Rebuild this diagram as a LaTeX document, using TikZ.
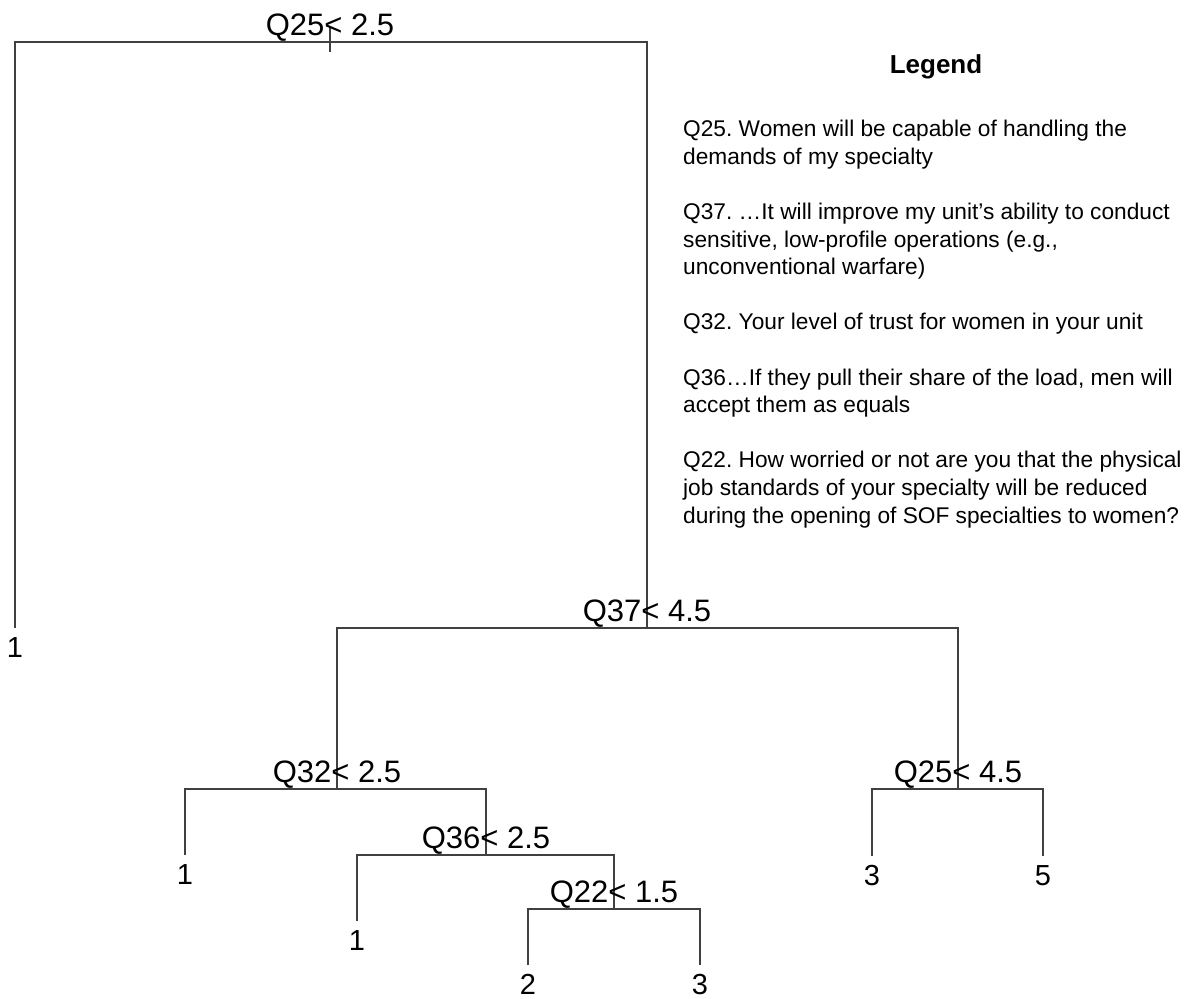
\documentclass[tikz,border=0pt]{standalone}
\usepackage{fontspec}
\setmainfont{Liberation Sans}
\frenchspacing
\usetikzlibrary{positioning}

\begin{document}
\begin{tikzpicture}[x=1pt,y=-1pt,
  branch/.style={line width=1.8pt,black!75},
  split/.style={anchor=base,inner sep=0pt,font=\fontsize{31}{37}\selectfont},
  leaf/.style={inner sep=0pt,font=\fontsize{29}{35}\selectfont},
  legtext/.style={inner sep=0pt,align=left,font=\fontsize{22.7}{27.6}\selectfont}
]
  \useasboundingbox (0,0) rectangle (1203,999);
  % Split points
  \coordinate (n25a) at (330,42);
  \coordinate (n37) at (647,628);
  \coordinate (n32) at (337,789);
  \coordinate (n36) at (486,855);
  \coordinate (n22) at (614,909);
  \coordinate (n25b) at (958,789);
  % Leaf ends
  \coordinate (e1a) at (15,628);
  \coordinate (e1b) at (185,855);
  \coordinate (e1c) at (357,921);
  \coordinate (e2) at (528,965);
  \coordinate (e3a) at (700,965);
  \coordinate (e3b) at (872,856);
  \coordinate (e5) at (1043,856);
  % Branches
  \draw[branch] ([yshift=15pt]n25a) -- ([yshift=-10pt]n25a);
  \draw[branch] (e1a) |- (n25a) -| (n37);
  \draw[branch] (n32) |- (n37) -| (n25b);
  \draw[branch] (e1b) |- (n32) -| (n36);
  \draw[branch] (e1c) |- (n36) -| (n22);
  \draw[branch] (e2) |- (n22) -| (e3a);
  \draw[branch] (e3b) |- (n25b) -| (e5);
  % Split labels
  \node[split] (t25a) at ([yshift=7pt]n25a) {Q25< 2.5};
  \node[split] (t37) at ([yshift=7pt]n37) {Q37< 4.5};
  \node[split] (t32) at ([yshift=7pt]n32) {Q32< 2.5};
  \node[split] (t36) at ([yshift=7pt]n36) {Q36< 2.5};
  \node[split] (t22) at ([yshift=7pt]n22) {Q22< 1.5};
  \node[split] (t25b) at ([yshift=7pt]n25b) {Q25< 4.5};
  % Leaves
  \node[leaf,below=9pt of e1a] (l1a) {1};
  \node[leaf,below=9pt of e1b] (l1b) {1};
  \node[leaf,below=9pt of e1c] (l1c) {1};
  \node[leaf,below=9pt of e2] (l2) {2};
  \node[leaf,below=9pt of e3a] (l3a) {3};
  \node[leaf,below=9pt of e3b] (l3b) {3};
  \node[leaf,below=9pt of e5] (l5) {5};
  % Legend
  \node[inner sep=0pt,font=\bfseries\fontsize{26}{31}\selectfont] (leg) at (936,67) {Legend};
  \node[legtext,anchor=north west] (legq) at (683,120) {Q25. Women will be capable of handling the\\
    demands of my specialty\\[27.6pt]
    Q37. …It will improve my unit’s ability to conduct\\
    sensitive, low-profile operations (e.g.,\\
    unconventional warfare)\\[27.6pt]
    Q32. Your level of trust for women in your unit\\[27.6pt]
    Q36…If they pull their share of the load, men will\\
    accept them as equals\\[27.6pt]
    Q22. How worried or not are you that the physical\\
    job standards of your specialty will be reduced\\
    during the opening of SOF specialties to women?};
\end{tikzpicture}
\end{document}
